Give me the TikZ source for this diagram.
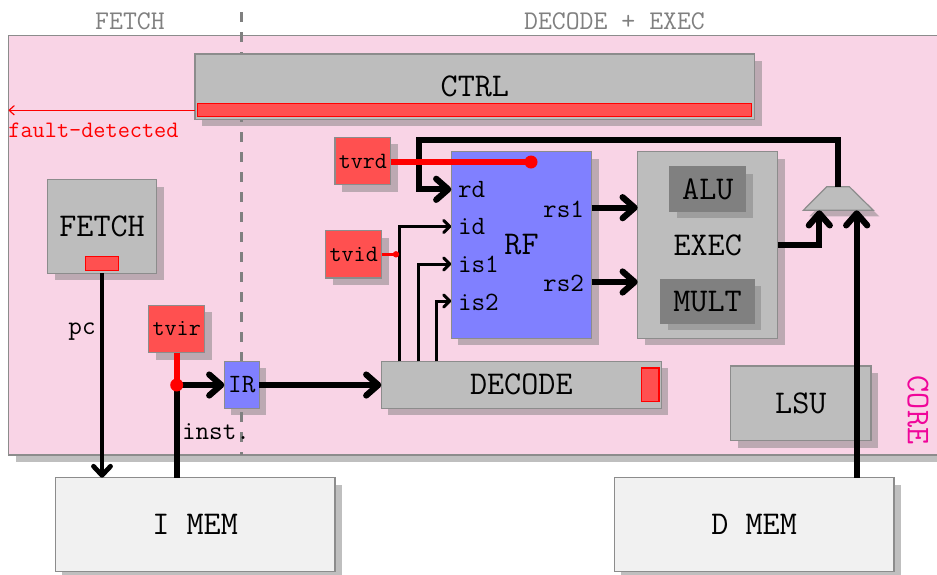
\RequirePackage{fix-cm}
\documentclass[tikz,border=0pt]{standalone}
\usetikzlibrary{shadows,arrows.meta}
\definecolor{corepink}{HTML}{F9D4E6}
\definecolor{blockgray}{HTML}{BDBDBD}
\definecolor{tvred}{HTML}{FF5050}
\definecolor{rfblue}{HTML}{8080FF}
\definecolor{memgray}{HTML}{F1F1F1}
\definecolor{darkblock}{HTML}{808080}
\definecolor{coretext}{HTML}{F0059A}
\definecolor{edgegray}{HTML}{8C8C8C}
\newcommand\bx[6][]{%
  \pgfmathsetmacro\bxcx{(#3+#5)/2}%
  \pgfmathsetmacro\bxcy{(#4+#6)/2}%
  \pgfmathsetmacro\bxw{(#5-#3)*0.5}%
  \pgfmathsetmacro\bxh{(#6-#4)*0.5}%
  \node[minimum width=\bxw pt,minimum height=\bxh pt,#1] (#2) at (\bxcx,\bxcy)}
\tikzset{
  x=0.5pt,y=-0.5pt,
  base/.style={draw=edgegray,line width=0.6pt,inner sep=0pt,outer sep=0pt,font=\ttfamily\fontsize{16.6}{18}\selectfont},
  shad/.style={drop shadow={shadow xshift=3.5pt,shadow yshift=-3.5pt}},
  blockbox/.style={base,shad,fill=blockgray},
  corebox/.style={base,shad,fill=corepink},
  membox/.style={base,shad,fill=memgray},
  rfbox/.style={base,shad,fill=rfblue},
  darkbox/.style={base,shad,fill=darkblock,draw=darkblock},
  tvbox/.style={base,shad,fill=tvred,font=\ttfamily\fontsize{11.7}{13}\selectfont},
  flagbox/.style={base,draw=red,fill=tvred},
  lab/.style={inner sep=0pt,outer sep=0pt,font=\ttfamily\fontsize{13.2}{15}\selectfont},
  heading/.style={inner sep=0pt,text=gray,font=\ttfamily\fontsize{13.5}{15}\selectfont},
  wire/.style={line width=3.1pt,draw=black,-{Straight Barb[round,length=6pt,width=10.5pt]}},
  pcwire/.style={line width=2.4pt,draw=black,-{Straight Barb[round,length=4.5pt,width=8.5pt]}},
  thinwire/.style={line width=1.5pt,draw=black,-{Straight Barb[round,length=3pt,width=6pt]}},
  probe/.style={line width=3pt,draw=red},
  dot/.style={circle,fill=red,inner sep=0pt,minimum size=#1},
}
\begin{document}
\begin{tikzpicture}
\clip (0,0) rectangle (937,574);
% headings
\node[heading] (hf) at (130,21.5) {FETCH};
\node[heading] (hd) at (614.5,21.5) {DECODE + EXEC};
% core
\bx[corebox]{core}{8.5}{35.5}{980}{455}{};
\coordinate (dtop) at (241.5,12);
\coordinate (dbot) at (241.5,455);
\draw[gray,line width=1.2pt,dash pattern=on 5pt off 5pt] (dtop) -- (dbot);
\node[inner sep=0pt,rotate=-90,text=coretext,font=\ttfamily\fontsize{16.6}{18}\selectfont] (corelab) at (918,410) {CORE};
% memories
\bx[membox]{imem}{55.3}{477.7}{335}{571.3}{I MEM};
\bx[membox]{dmem}{614.3}{477.7}{894}{571.3}{D MEM};
% blocks
\bx[blockbox]{ctrl}{195}{54}{754.7}{119.3}{CTRL};
\bx[flagbox]{ctrlflag}{197.7}{103.3}{751.7}{116.7}{};
\bx[blockbox]{fetch}{47.5}{179.7}{156.7}{273.3}{FETCH};
\bx[flagbox]{fetchflag}{85.3}{256.7}{118.7}{270.7}{};
\bx[rfbox]{rf}{451.3}{151.7}{591.7}{338.3}{RF};
\bx[blockbox]{exec}{637.7}{151.7}{777.7}{338.3}{EXEC};
\bx[darkbox]{alu}{670}{167}{745.7}{211}{ALU};
\bx[darkbox]{mult}{661}{279.3}{754}{323}{MULT};
\bx[blockbox]{lsu}{730.7}{366}{871}{440.7}{LSU};
\bx[blockbox]{decode}{381.3}{361.3}{661.3}{408.3}{DECODE};
\bx[flagbox]{decflag}{641.7}{368}{659}{401.7}{};
\bx[rfbox,font=\ttfamily\fontsize{13.2}{15}\selectfont]{ir}{224.3}{361.3}{259.3}{408.3}{IR};
\bx[tvbox]{tvrd}{335}{137.3}{390.7}{184.7}{tvrd};
\bx[tvbox]{tvid}{325.7}{230.7}{381.7}{278}{tvid};
\bx[tvbox]{tvir}{148.7}{305.3}{204.7}{352.7}{tvir};
\path[draw=edgegray,line width=0.6pt,fill=blockgray,drop shadow={shadow xshift=3pt,shadow yshift=-3pt}] (803.3,210.3) -- (826.7,186.7) -- (849.3,186.7) -- (873.3,210.3) -- cycle;
\coordinate (muxtop) at (838.3,186.7);
% port labels
\node[lab,anchor=west] (lrd) at (458,190) {rd};
\node[lab,anchor=west] (lid) at (458,227) {id};
\node[lab,anchor=west] (lis1) at (458,264.5) {is1};
\node[lab,anchor=west] (lis2) at (458,302) {is2};
\node[lab,anchor=east] (lrs1) at (584,209) {rs1};
\node[lab,anchor=east] (lrs2) at (584,283) {rs2};
\node[lab] (lpc) at (82,332) {pc};
\node[lab] (linst) at (216,432) {inst.};
\node[inner sep=0pt,text=red,anchor=west,font=\ttfamily\fontsize{11.8}{13}\selectfont] (lfault) at (8,130) {fault-detected};
% ports
\coordinate (pa) at (819.3,210.3);
\coordinate (pb) at (856.7,210.3);
\coordinate (prd) at (451.3,189.3);
\coordinate (pid) at (451.3,226.5);
\coordinate (pis1) at (451.3,264);
\coordinate (pis2) at (451.3,301);
\coordinate (prs1) at (591.7,207.7);
\coordinate (prs2) at (591.7,282);
\coordinate (sid) at (399.4,361.3);
\coordinate (sis1) at (418.2,361.3);
\coordinate (sis2) at (436.8,361.3);
\coordinate (bend) at (419,140);
\coordinate (top) at (838.3,140);
\coordinate (fleft) at (8.5,110.3);
\coordinate (junction) at (176.7,385);
\coordinate (idn) at (396,254.3);
\coordinate (rfdot) at (531,162);
\coordinate (tvrdout) at (390.7,162);
\coordinate (tvidout) at (381.7,254.3);
\coordinate (ctrlout) at (195,110.3);
\coordinate (execout) at (777.7,245);
\coordinate (imemin) at (176.7,477.7);
\coordinate (dmemin) at (856.7,477.7);
\coordinate (tvirout) at (176.7,352.7);
\coordinate (fetchout) at (102,273.3);
\coordinate (imemtop) at (102,477.7);
\coordinate (irin) at (224.3,385);
\coordinate (irout) at (259.3,385);
\coordinate (decin) at (381.3,385);
% wires
\draw[red,line width=0.6pt,-{Straight Barb[round,length=2.5pt,width=4.5pt]}] (ctrlout) -- (fleft);
\draw[pcwire] (fetchout) -- (imemtop);
\draw[line width=3.1pt] (imemin) -- (junction);
\draw[wire] (junction) -- (irin);
\draw[wire] (irout) -- (decin);
\draw[wire] (muxtop) -- (top) -- (bend) |- (prd);
\draw[thinwire] (sid) |- (pid);
\draw[thinwire] (sis1) |- (pis1);
\draw[thinwire] (sis2) |- (pis2);
\draw[wire] (prs1) -- (prs1 -| exec.west);
\draw[wire] (prs2) -- (prs2 -| exec.west);
\draw[wire] (execout) -| (pa);
\draw[wire] (dmemin) -- (pb);
% probes
\draw[probe] (tvirout) -- (junction);
\node[dot=6.5pt] (jd) at (junction) {};
\draw[probe] (tvrdout) -- (rfdot);
\node[dot=6.5pt] (rd) at (rfdot) {};
\draw[red,line width=1.3pt] (tvidout) -- (idn);
\node[dot=3.2pt] (idd) at (idn) {};
\end{tikzpicture}
\end{document}
